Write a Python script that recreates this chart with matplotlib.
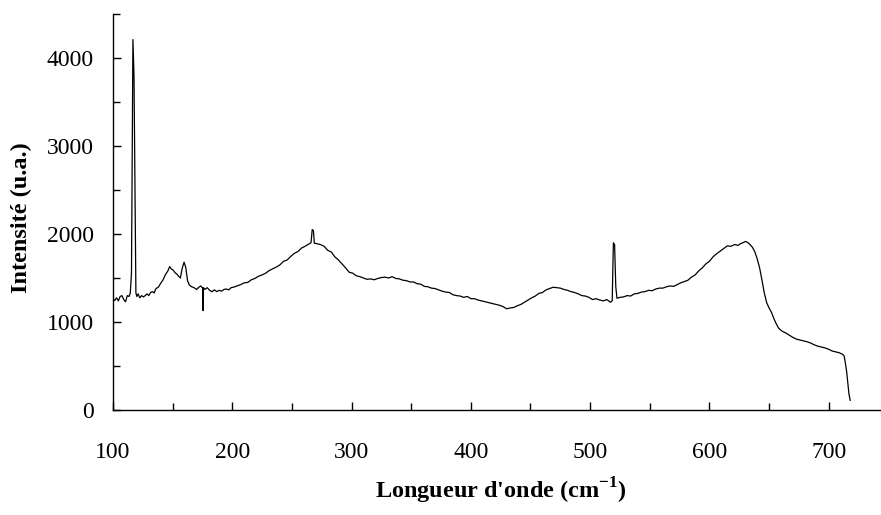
import matplotlib
matplotlib.use("Agg")
import matplotlib.pyplot as plt
from matplotlib.ticker import MultipleLocator

plt.rcParams['font.family'] = ['Liberation Serif']
plt.rcParams['mathtext.fontset'] = 'custom'
plt.rcParams['mathtext.rm'] = 'Liberation Serif'
plt.rcParams['mathtext.bf'] = 'Liberation Serif:bold'

wavenumber = [
    100, 101.5, 103, 104.5, 106, 107.5, 109, 110.5, 112, 113.5,
    114.5, 115.5, 116.7, 117.6, 119.2, 120, 121, 122.5, 124, 125.5,
    127, 128.5, 130, 131.5, 133, 134.5, 136, 138, 140, 142,
    144, 146, 147.5, 149, 150.5, 152, 153.5, 155, 156.5, 158,
    159.6, 161, 162.5, 164, 166, 168, 170, 172, 173.5, 175.2,
    175.5, 175.8, 177, 179, 181, 183, 185, 187, 189, 191,
    193, 195, 197, 199, 201, 204, 207, 210, 213, 216,
    219, 222, 225, 228, 231, 234, 237, 240, 243, 246,
    249, 252, 255, 258, 261, 264, 266, 267, 268, 268.8,
    271, 274, 277, 280, 283, 286, 289, 292, 295, 298,
    301, 304, 307, 310, 313, 316, 319, 322, 325, 328,
    331, 334, 337, 340, 343, 346, 349, 352, 355, 358,
    361, 364, 367, 370, 373, 376, 379, 382, 385, 388,
    391, 394, 397, 400, 403, 406, 409, 412, 415, 418,
    421, 424, 427, 430, 433, 436, 439, 442, 445, 448,
    451, 454, 457, 460, 463, 466, 469, 472, 475, 478,
    481, 484, 487, 490, 493, 496, 499, 502, 505, 508,
    511, 514, 517, 518.5, 519.5, 520.5, 521.5, 522.5, 525, 528,
    531, 534, 537, 540, 543, 546, 549, 552, 555, 558,
    561, 564, 567, 570, 573, 576, 579, 582, 585, 588,
    591, 594, 597, 600, 603, 606, 609, 612, 615, 618,
    621, 624, 626, 628, 630, 632, 634, 636, 638, 640,
    642, 644, 646, 648, 650, 652, 654, 656, 658, 661,
    664, 667, 670, 673, 676, 679, 682, 685, 688, 691,
    694, 697, 700, 703, 706, 709, 712, 713, 714, 715,
    716, 717, 718,
]

intensity = [
    1265, 1245, 1275, 1240, 1290, 1300, 1255, 1230, 1300, 1290,
    1330, 1560, 4210, 3800, 1330, 1290, 1320, 1275, 1300, 1285,
    1300, 1320, 1300, 1335, 1345, 1330, 1380, 1395, 1440, 1480,
    1540, 1580, 1630, 1600, 1590, 1560, 1545, 1520, 1500, 1610,
    1680, 1620, 1470, 1420, 1400, 1390, 1370, 1395, 1410, 1385,
    1130, 1390, 1370, 1390, 1360, 1345, 1365, 1345, 1360, 1350,
    1370, 1375, 1365, 1390, 1395, 1410, 1425, 1445, 1450, 1480,
    1495, 1520, 1535, 1555, 1585, 1605, 1625, 1650, 1690, 1705,
    1745, 1780, 1800, 1840, 1860, 1885, 1900, 2050, 2040, 1895,
    1890, 1880, 1860, 1815, 1795, 1740, 1705, 1660, 1615, 1565,
    1555, 1525, 1515, 1500, 1485, 1490, 1480, 1495, 1505, 1510,
    1500, 1515, 1495, 1490, 1475, 1470, 1455, 1455, 1435, 1430,
    1405, 1400, 1385, 1380, 1365, 1350, 1340, 1335, 1310, 1300,
    1295, 1280, 1290, 1265, 1265, 1250, 1240, 1230, 1220, 1210,
    1200, 1190, 1175, 1150, 1160, 1165, 1185, 1200, 1225, 1250,
    1275, 1295, 1325, 1335, 1365, 1380, 1395, 1390, 1385, 1370,
    1360, 1345, 1335, 1320, 1300, 1295, 1280, 1255, 1265, 1250,
    1240, 1255, 1225, 1240, 1900, 1880, 1400, 1270, 1280, 1285,
    1300, 1295, 1320, 1325, 1340, 1345, 1360, 1355, 1375, 1385,
    1385, 1400, 1410, 1405, 1425, 1445, 1460, 1475, 1510, 1535,
    1580, 1615, 1660, 1690, 1740, 1775, 1805, 1835, 1865, 1860,
    1880, 1870, 1890, 1900, 1915, 1905, 1880, 1850, 1800, 1720,
    1620, 1480, 1330, 1220, 1160, 1110, 1040, 980, 930, 895,
    875, 850, 825, 805, 795, 785, 775, 760, 740, 725,
    715, 705, 690, 670, 660, 650, 630, 610, 530, 440,
    310, 180, 110,
]

fig = plt.figure(figsize=(8.81, 5.15), dpi=100)
ax = fig.add_axes([113 / 881, 105 / 515, 767 / 881, 396 / 515])

ax.plot(wavenumber, intensity, color='black', linewidth=0.9)

ax.set_xlim(100, 743)
ax.set_ylim(0, 4500)

ax.xaxis.set_major_locator(MultipleLocator(100))
ax.xaxis.set_minor_locator(MultipleLocator(50))
ax.yaxis.set_major_locator(MultipleLocator(1000))
ax.yaxis.set_minor_locator(MultipleLocator(500))

ax.spines['top'].set_visible(False)
ax.spines['right'].set_visible(False)
for s in ('left', 'bottom'):
    ax.spines[s].set_linewidth(1.0)
    ax.spines[s].set_color('black')

ax.tick_params(axis='both', which='major', direction='in', length=6, width=1.0,
               labelsize=17, colors='black')
ax.tick_params(axis='both', which='minor', direction='in', length=5, width=1.0)
ax.tick_params(axis='x', which='major', pad=23)
ax.tick_params(axis='y', which='major', pad=14)

ax.set_ylabel("Intensité (u.a.)", fontsize=17.5, fontweight='bold')
ax.yaxis.set_label_coords(-0.106, 0.485)

fig.text(501 / 881, 1 - 499 / 515, r"Longueur d'onde (cm$^{\mathbf{-1}}$)",
         fontsize=17.5, fontweight='bold', ha='center', va='baseline')

fig.savefig("out.png", dpi=100)
